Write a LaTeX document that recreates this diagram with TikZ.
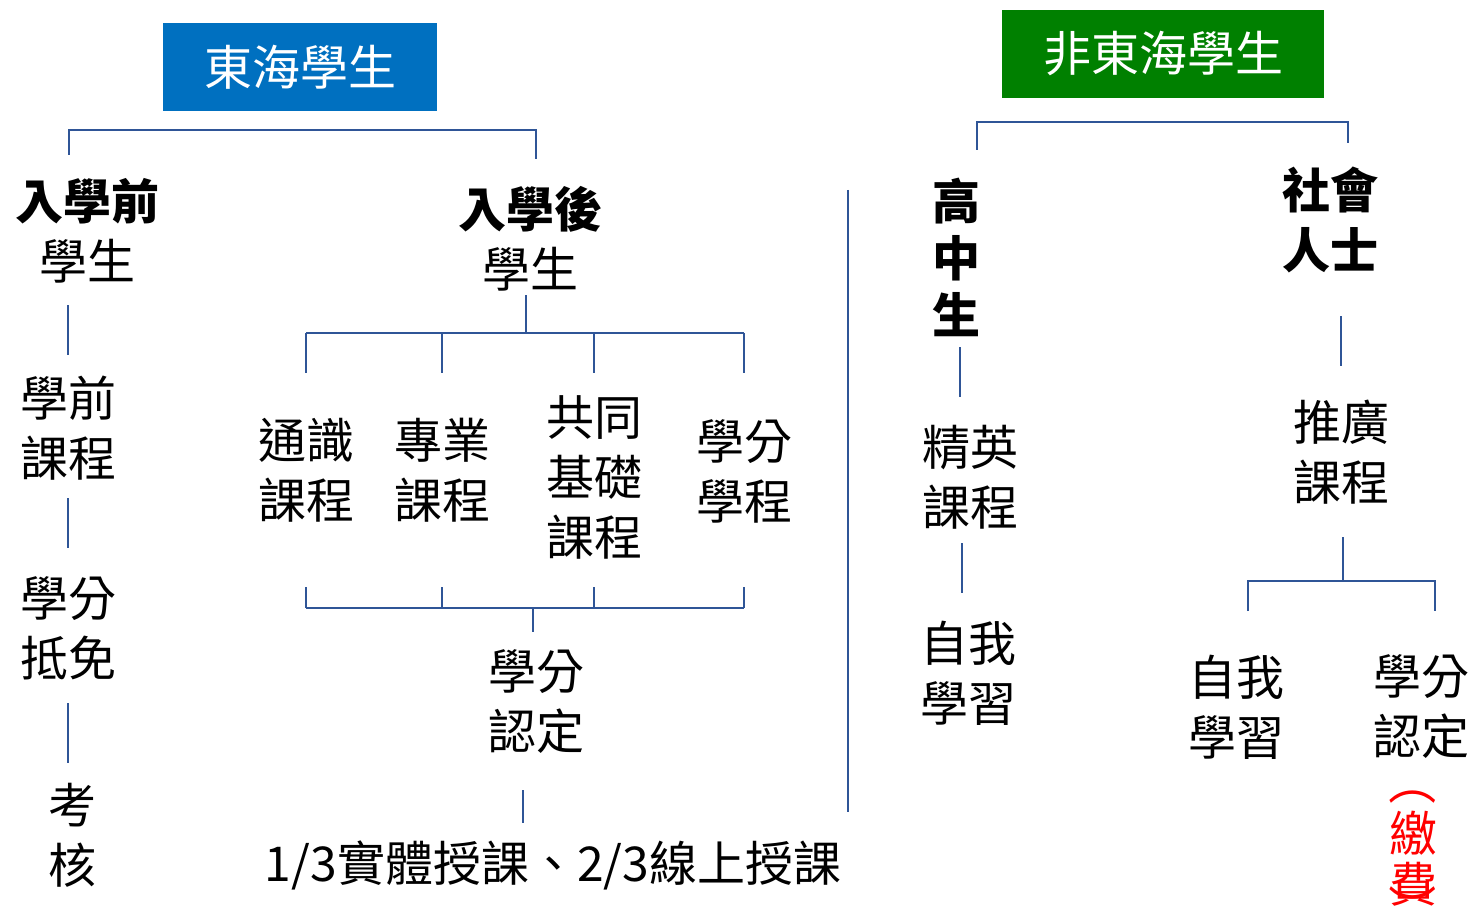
\documentclass[tikz,border=0pt]{standalone}
\usepackage{fontspec}
\setmainfont{Noto Sans CJK TC}
\usetikzlibrary{positioning}
\definecolor{linkblue}{RGB}{47,85,151}
\definecolor{boxblue}{RGB}{0,112,192}
\definecolor{boxgreen}{RGB}{0,128,0}

\begin{document}
\begin{tikzpicture}[x=1pt,y=-1pt,
      every node/.style={font=\fontsize{48}{60}\selectfont, align=center, inner sep=0pt},
      conn/.style={draw=linkblue, line width=2pt},
      titlebox/.style={text=white, minimum height=88pt},
      feetext/.style={text=red, font=\fontsize{48}{51}\selectfont}]
  \useasboundingbox (0,0) rectangle (1472,912);

  % titles
  \node[titlebox, fill=boxblue, minimum width=274pt] (thu) at (300,67) {東海學生};
  \node[titlebox, fill=boxgreen, minimum width=322pt] (other) at (1163,54) {非東海學生};

  % Tunghai students
  \node (pre) at (88,231) {\textbf{入學前}\\學生};
  \node (post) at (530,239) {\textbf{入學後}\\學生};
  \node (prec) at (68,428) {學前\\課程};
  \node (waive) at (68,628) {學分\\抵免};
  \node (exam) at (72,835) {考\\核};
  \node (gen) at (306,470) {通識\\課程};
  \node (major) at (442,470) {專業\\課程};
  \node (basic) at (594,477) {共同\\基礎\\課程};
  \node (prog) at (744,471) {學分\\學程};
  \node (cred) at (536,702) {學分\\認定};
  \node (mode) at (553,865) {1/3實體授課、2/3線上授課};

  % other students
  \node[font=\fontsize{48}{57}\selectfont\bfseries] (high) at (956,257) {高\\中\\生};
  \node (adult) at (1330,220) {\textbf{社會}\\\textbf{人士}};
  \node (elite) at (970,477) {精英\\課程};
  \node (selfA) at (968,673) {自我\\學習};
  \node (ext) at (1341,452) {推廣\\課程};
  \node (selfB) at (1236,707) {自我\\學習};
  \node (credB) at (1421,707) {學分\\認定};
  \node[feetext] (fee) at (1413,859) {繳\\費};
  \node[feetext, rotate=-90] (feeL) at (1413,781) {（};
  \node[feetext, rotate=-90] (feeR) at (1413,908) {）};

  % forks
  \coordinate (thuL) at (69,130);
  \coordinate (thuR) at (536,130);
  \coordinate (postFork) at (526,333);
  \coordinate (credFork) at (533,608);
  \coordinate (otherL) at (977,122);
  \coordinate (otherR) at (1348,122);
  \coordinate (extFork) at (1343,581);
  \coordinate (extL) at (1248,581);
  \coordinate (extR) at (1435,581);

  \draw[conn] (thuL) ++(0,25) -- (thuL) -- (thuR) -- ++(0,29);
  \draw[conn, shorten <=74pt, shorten >=73pt] (prec.center |- pre.center) -- (prec.center);
  \draw[conn, shorten <=70pt, shorten >=80pt] (prec.center) -- (waive.center);
  \draw[conn, shorten <=75pt, shorten >=72pt] (waive.center) -- (waive.center |- exam.center);

  \draw[conn, shorten <=56pt] (postFork |- post.center) -- (postFork);
  \draw[conn] (gen |- postFork) -- (prog |- postFork);
  \foreach \n in {gen,major,basic,prog}
    \draw[conn] (\n |- postFork) -- ++(0,40);
  \draw[conn] (gen |- credFork) -- (prog |- credFork);
  \foreach \n in {gen,major,basic,prog}
    \draw[conn] (\n |- credFork) -- ++(0,-21);
  \draw[conn, shorten >=70pt] (credFork) -- (credFork |- cred.center);
  \draw[conn, shorten <=88pt, shorten >=42pt] ([xshift=-13pt]cred.center) -- ([xshift=-13pt]cred.center |- mode.center);

  % divider
  \draw[conn] (848,190) -- (848,812);

  \draw[conn] (otherL) ++(0,28) -- (otherL) -- (otherR) -- ++(0,21);
  \draw[conn, shorten <=90pt, shorten >=80pt] ([xshift=4pt]high.center) -- ([xshift=4pt]high.center |- elite.center);
  \draw[conn, shorten <=66pt, shorten >=80pt] ([xshift=-8pt]elite.center) -- ([xshift=-8pt]elite.center |- selfA.center);
  \draw[conn, shorten <=96pt, shorten >=86pt] (ext.center |- adult.center) -- (ext.center);
  \draw[conn, shorten <=85pt] (extFork |- ext.center) -- (extFork);
  \draw[conn] (extL) ++(0,30) -- (extL) -- (extR) -- ++(0,30);
\end{tikzpicture}
\end{document}
